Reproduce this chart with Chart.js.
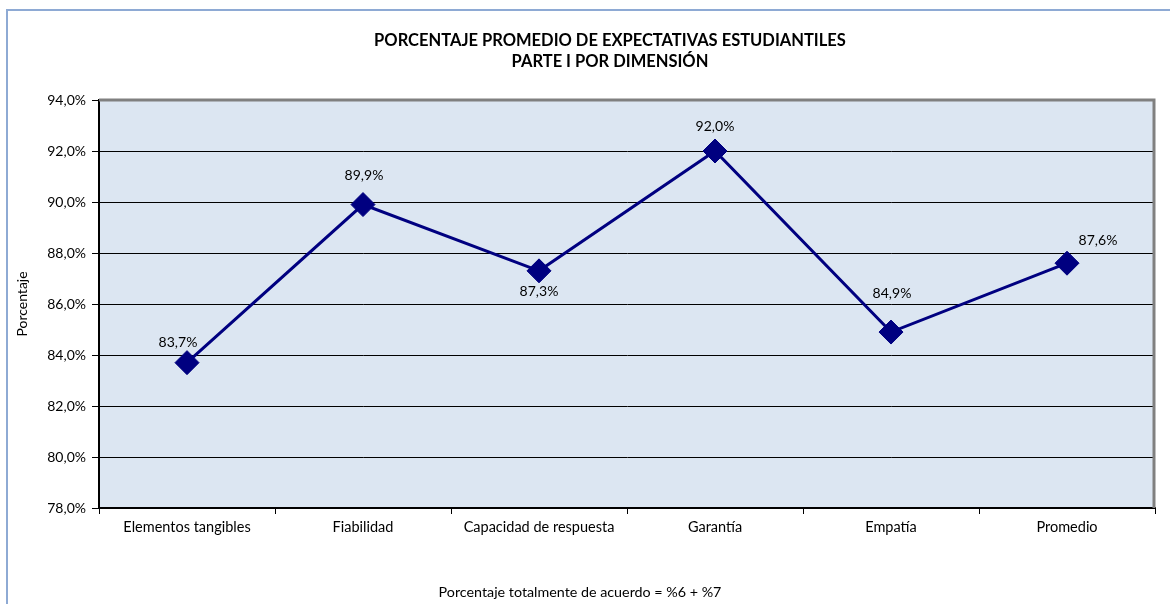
<!DOCTYPE html>
<html>
<head>
<meta charset="utf-8">
<script src="https://cdn.jsdelivr.net/npm/chart.js@4.4.1/dist/chart.umd.min.js"></script>
<style>
  body { margin: 0; background: #fff; }
  #wrap { position: relative; width: 1170px; height: 604px; overflow: hidden; }
  #frame { position: absolute; left: 6px; top: 9px; width: 1200px; height: 700px; border: 2px solid #8eaad4; }
  #myChart { position: absolute; left: 0; top: 0; }
</style>
</head>
<body>
<div id="wrap">
  <div id="frame"></div>
  <canvas id="myChart" width="1170" height="604"></canvas>
</div>
<script>
const categories = ['Elementos tangibles', 'Fiabilidad', 'Capacidad de respuesta', 'Garantía', 'Empatía', 'Promedio'];
const values = [83.7, 89.9, 87.3, 92.0, 84.9, 87.6];
const yTicks = [78, 80, 82, 84, 86, 88, 90, 92, 94];

const titleLines = ['PORCENTAJE PROMEDIO DE EXPECTATIVAS ESTUDIANTILES', 'PARTE I POR DIMENSIÓN'];
const footer = 'Porcentaje totalmente de acuerdo = %6 + %7';

const FONT = 'Lato, "Open Sans", sans-serif';

function fmt(v) {
  return v.toFixed(1).replace('.', ',') + '%';
}

// background of the plot, frame lines, titles and point labels
const decor = {
  id: 'decor',
  beforeDraw(chart) {
    const { ctx, chartArea: a } = chart;
    ctx.save();
    ctx.fillStyle = '#dce6f2';
    ctx.fillRect(a.left, a.top, a.right - a.left, a.bottom - a.top);
    ctx.restore();
  },
  beforeDatasetsDraw(chart) {
    const { ctx, chartArea: a } = chart;
    ctx.save();
    ctx.strokeStyle = '#808080';
    ctx.lineWidth = 3;
    ctx.beginPath();
    ctx.moveTo(a.left, a.top);
    ctx.lineTo(a.right - 1, a.top);
    ctx.lineTo(a.right - 1, a.bottom);
    ctx.stroke();
    ctx.restore();
  },
  afterDraw(chart, args, opts) {
    const { ctx } = chart;
    ctx.save();
    ctx.fillStyle = '#000';
    ctx.textAlign = 'center';
    ctx.textBaseline = 'middle';
    ctx.font = 'bold 16.5px ' + FONT;
    ctx.fillText(titleLines[0], 610, 41);
    ctx.fillText(titleLines[1], 610, 62);
    ctx.font = '14.3px ' + FONT;
    ctx.fillText(footer, 580, 592);

    ctx.font = '14px ' + FONT;
    const meta = chart.getDatasetMeta(0);
    meta.data.forEach((pt, i) => {
      const o = opts.offsets[i];
      ctx.fillText(fmt(values[i]), pt.x + o[0], pt.y + o[1]);
    });
    ctx.restore();
  }
};

new Chart(document.getElementById('myChart'), {
  type: 'line',
  data: {
    labels: categories,
    datasets: [{
      data: values,
      borderColor: '#000080',
      borderWidth: 3,
      tension: 0,
      pointStyle: 'rectRot',
      pointRadius: 12,
      pointBackgroundColor: '#000080',
      pointBorderColor: '#000080',
      pointBorderWidth: 1
    }]
  },
  options: {
    responsive: false,
    animation: false,
    layout: { padding: { top: 100, right: 15, left: 0, bottom: 0 } },
    plugins: {
      legend: { display: false },
      tooltip: { enabled: false },
      decor: { offsets: [[-9, -20], [1, -29], [0, 21], [0, -25], [1, -39], [31, -23]] }
    },
    scales: {
      x: {
        offset: true,
        grid: { offset: true, drawOnChartArea: false, drawTicks: true, tickLength: 6, tickColor: '#000' },
        border: { color: '#000', width: 2 },
        ticks: { color: '#000', font: { family: FONT, size: 14.5 }, padding: 5, maxRotation: 0 },
        afterFit(s) { s.height = 96; }
      },
      y: {
        min: 78,
        max: 94,
        afterBuildTicks(s) { s.ticks = yTicks.map(v => ({ value: v })); },
        grid: {
          color: c => (c.tick && c.tick.value === 94 ? 'rgba(0,0,0,0)' : '#000'),
          lineWidth: 1,
          tickLength: 7,
          tickColor: '#000'
        },
        border: { color: '#000', width: 2 },
        ticks: { color: '#000', font: { family: FONT, size: 14 }, padding: 6, callback: v => fmt(v) },
        title: { display: true, text: 'Porcentaje', color: '#000', font: { family: FONT, size: 14 }, padding: { top: 14, bottom: 0 } },
        afterFit(s) { s.width = 99; }
      }
    }
  },
  plugins: [decor]
});
</script>
</body>
</html>
